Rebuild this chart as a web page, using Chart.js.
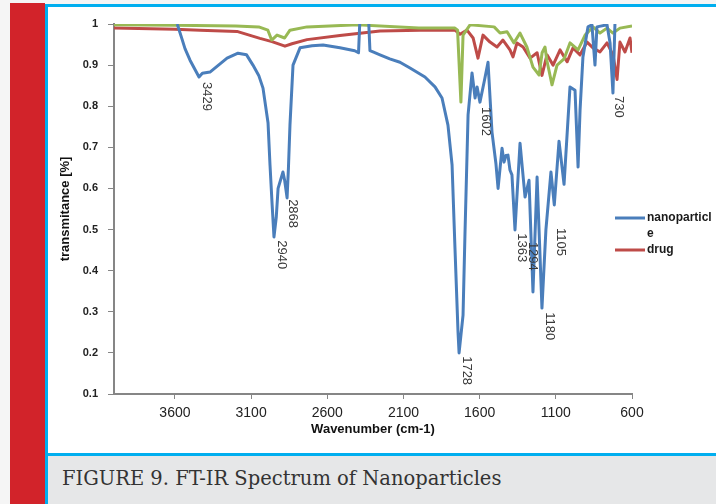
<!DOCTYPE html>
<html>
<head>
<meta charset="utf-8">
<script src="https://cdn.jsdelivr.net/npm/chart.js@4.4.1/dist/chart.umd.min.js"></script>
<style>
  html, body { margin: 0; padding: 0; }
  body { width: 716px; height: 504px; position: relative; overflow: hidden; background: #f5f5f5; }
  #stripe { position: absolute; left: 10px; top: 3px; width: 35px; height: 501px; background: #d2232a; }
  #frame { position: absolute; left: 45px; top: 4px; right: 0; bottom: 0; background: #00aeef; }
  #panel { position: absolute; left: 48px; top: 7px; right: 0; height: 446px; background: #fff; }
  #caption { position: absolute; left: 48px; top: 456px; right: 0; bottom: 0; background: #e6e7e8;
             color: #333; font-family: "DejaVu Serif", serif; font-size: 19.5px; line-height: 46px; padding-left: 14px; }
  #chart { position: absolute; left: 0; top: 0; }
</style>
</head>
<body>
<div id="stripe"></div>
<div id="frame"></div>
<div id="panel"></div>
<div id="caption">FIGURE 9. FT-IR Spectrum of Nanoparticles</div>
<canvas id="chart" width="716" height="504"></canvas>

<script>
// axis ticks
const xTicks = [3600, 3100, 2600, 2100, 1600, 1100, 600];
const yTicks = [1, 0.9, 0.8, 0.7, 0.6, 0.5, 0.4, 0.3, 0.2, 0.1];

// series names (legend)
const seriesNames = ["nanoparticle", "drug"];

// nanoparticle (blue)
const nanoWn = [3585,3555,3534,3501,3442,3420,3370,3258,3186,3130,3088,3050,3022,2989,2976,2962,2950,2935,2923,2891,2880,2864,2855,2845,2825,2779,2700,2628,2517,2420,2395,2385,2330,2320,2300,2254,2190,2123,2057,1959,1893,1847,1808,1781,1762,1742,1735,1709,1696,1676,1650,1630,1617,1598,1570,1545,1519,1493,1479,1453,1440,1427,1414,1401,1388,1368,1335,1302,1276,1250,1223,1191,1165,1132,1110,1079,1046,1007,974,954,941,922,889,863,843,830,764,744,725,712,700];
const nanoT  = [1.0,0.965,0.94,0.912,0.871,0.88,0.883,0.917,0.929,0.925,0.90,0.875,0.844,0.76,0.657,0.56,0.482,0.53,0.60,0.64,0.62,0.577,0.65,0.754,0.90,0.942,0.947,0.949,0.942,0.935,0.93,1.02,1.02,0.935,0.932,0.925,0.915,0.907,0.893,0.871,0.847,0.82,0.754,0.657,0.455,0.251,0.2,0.292,0.494,0.779,0.881,0.82,0.847,0.81,0.86,0.907,0.737,0.66,0.60,0.698,0.664,0.68,0.681,0.645,0.633,0.499,0.71,0.579,0.62,0.348,0.628,0.309,0.5,0.64,0.56,0.715,0.61,0.847,0.839,0.652,0.79,0.92,0.993,0.998,0.90,0.993,0.998,0.954,0.832,1.0,1.02];

// drug (red)
const drugWn = [4000,3600,3435,3193,3042,2963,2878,2832,2733,2517,2254,1991,1762,1729,1683,1643,1611,1578,1532,1486,1447,1401,1381,1355,1315,1269,1223,1191,1158,1118,1072,1026,987,941,895,856,810,764,725,698,679,646,613,600];
const drugT  = [0.99,0.987,0.985,0.982,0.965,0.957,0.946,0.952,0.962,0.972,0.983,0.985,0.985,0.975,0.985,0.966,0.917,0.973,0.956,0.944,0.961,0.937,0.92,0.954,0.944,0.917,0.93,0.875,0.925,0.9,0.937,0.908,0.942,0.925,0.956,0.942,0.932,0.954,0.925,0.865,0.956,0.932,0.966,0.93];

// third trace (green, no legend entry)
const thirdWn = [4000,3600,3200,3050,2990,2965,2930,2880,2845,2733,2400,2000,1762,1745,1723,1709,1663,1505,1466,1420,1375,1335,1290,1250,1210,1190,1171,1158,1125,1092,1046,1007,954,908,856,810,764,725,679,600];
const thirdT  = [0.998,0.997,0.995,0.993,0.985,0.961,0.973,0.966,0.985,0.993,0.998,0.99,0.99,0.985,0.81,0.973,0.998,0.993,0.978,0.981,0.954,0.978,0.944,0.895,0.876,0.93,0.944,0.91,0.852,0.9,0.915,0.954,0.937,0.973,0.993,0.978,0.99,0.978,0.99,0.995];

// peak labels (text is the wavenumber) and the transmittance where each label starts
const peakText = ["3429","2940","2868","1728","1602","1363","1294","1180","1105","730"];
const peakT    = [0.859,0.474,0.574,0.192,0.798,0.491,0.47,0.299,0.504,0.825];

const colors = { nano: "#4a7ebb", drug: "#be4b48", third: "#98b954" };
const toXY = (xs, ys) => xs.map((x, i) => ({ x, y: ys[i] }));

/* peak labels, rotated like the excel data labels */
const peakLabels = {
  id: "peakLabels",
  afterDatasetsDraw(chart){
    const { ctx, scales: { x, y } } = chart;
    ctx.save();
    ctx.font = '13px "Liberation Sans", Arial, sans-serif';
    ctx.fillStyle = "#3a3a3a";
    ctx.textAlign = "left";
    ctx.textBaseline = "middle";
    peakText.forEach((t, i) => {
      ctx.save();
      ctx.translate(x.getPixelForValue(Number(t)) + 6, y.getPixelForValue(peakT[i]));
      ctx.rotate(Math.PI / 2);
      ctx.fillText(t, 0, 0);
      ctx.restore();
    });
    ctx.restore();
  }
};

/* legend on the right, text wraps at the edge */
const sideLegend = {
  id: "sideLegend",
  afterDraw(chart){
    const ctx = chart.ctx;
    const lineX = chart.width - 101, textX = chart.width - 69, maxW = 68;
    let y = 218;
    ctx.save();
    ctx.font = 'bold 12px "Liberation Sans", Arial, sans-serif';
    ctx.textAlign = "left";
    ctx.textBaseline = "middle";
    [colors.nano, colors.drug].forEach((c, i) => {
      ctx.strokeStyle = c;
      ctx.lineWidth = 3;
      ctx.beginPath();
      ctx.moveTo(lineX, y);
      ctx.lineTo(lineX + 30, y);
      ctx.stroke();
      ctx.fillStyle = "#1a1a1a";
      // break the name when it does not fit
      let rest = seriesNames[i];
      while(rest.length){
        let n = rest.length;
        while(n > 1 && ctx.measureText(rest.slice(0, n)).width > maxW) n--;
        ctx.fillText(rest.slice(0, n), textX, y);
        rest = rest.slice(n);
        if(rest.length) y += 16;
      }
      y += 16;
    });
    ctx.restore();
  }
};

new Chart(document.getElementById("chart"), {
  type: "line",
  data: {
    datasets: [
      { label: seriesNames[0], data: toXY(nanoWn, nanoT), borderColor: colors.nano, borderWidth: 3, order: 0 },
      { label: "", data: toXY(thirdWn, thirdT), borderColor: colors.third, borderWidth: 3, order: 1 },
      { label: seriesNames[1], data: toXY(drugWn, drugT), borderColor: colors.drug, borderWidth: 3, order: 2 }
    ]
  },
  options: {
    responsive: false,
    animation: false,
    devicePixelRatio: 1,
    elements: { point: { radius: 0 }, line: { tension: 0, borderJoinStyle: "round" } },
    layout: { padding: { left: 0, top: 24, right: 84, bottom: 50 } },
    plugins: { legend: { display: false }, tooltip: { enabled: false } },
    scales: {
      x: {
        type: "linear",
        min: 600, max: 4000,
        reverse: true,
        afterBuildTicks: axis => { axis.ticks = xTicks.map(v => ({ value: v })); },
        afterFit: s => { s.height = 60; },
        grid: { drawOnChartArea: false, drawTicks: true, tickLength: 5, color: "#868686" },
        border: { display: true, color: "#868686", width: 2 },
        ticks: { callback: v => String(v), color: "#222", padding: 6, maxRotation: 0,
                 font: { family: '"Liberation Sans", Arial, sans-serif', size: 14 } },
        title: { display: true, text: "Wavenumber (cm-1)", color: "#111",
                 font: { family: '"Liberation Sans", Arial, sans-serif', size: 13, weight: "bold" },
                 padding: { top: 0, bottom: 17 } }
      },
      y: {
        min: 0.1, max: 1,
        afterBuildTicks: axis => { axis.ticks = yTicks.map(v => ({ value: v })); },
        afterFit: s => { s.width = 114; },
        grid: { drawOnChartArea: false, drawTicks: true, tickLength: 6, color: "#868686" },
        border: { display: true, color: "#868686", width: 2 },
        ticks: { callback: v => String(Number(v.toFixed(1))), color: "#222", padding: 10,
                 font: { family: '"Liberation Sans", Arial, sans-serif', size: 11, weight: "bold" } },
        title: { display: true, text: "transmitance [%]", color: "#111",
                 font: { family: '"Liberation Sans", Arial, sans-serif', size: 13, weight: "bold" },
                 padding: { top: 58, bottom: 0 } }
      }
    }
  },
  plugins: [peakLabels, sideLegend]
});
</script>
</body>
</html>
